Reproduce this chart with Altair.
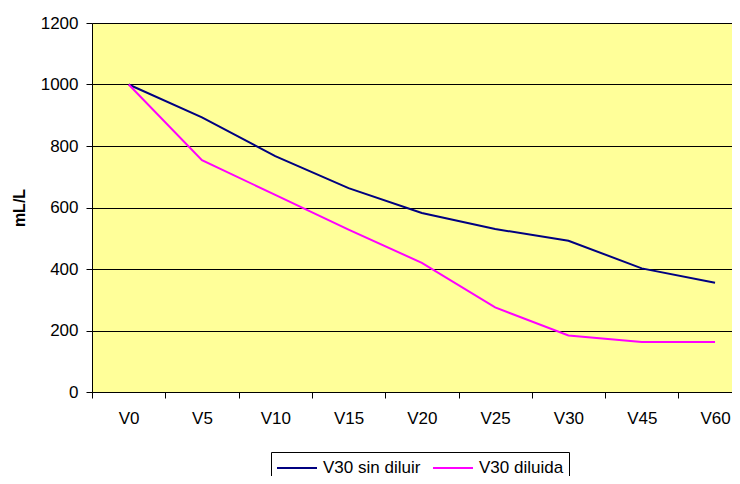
import altair as alt
import pandas as pd

categories = ["V0", "V5", "V10", "V15", "V20", "V25", "V30", "V45", "V60"]
sin_diluir = [1000, 893, 767, 663, 582, 530, 492, 402, 355]
diluida = [1000, 754, 641, 528, 420, 275, 184, 163, 163]
series_names = ["V30 sin diluir", "V30 diluida"]
series_colors = ["#000080", "#FF00FF"]
y_ticks = [0, 200, 400, 600, 800, 1000, 1200]

rows = []
for i, c in enumerate(categories):
    rows.append({"idx": i, "cat": c, "serie": series_names[0], "val": sin_diluir[i]})
    rows.append({"idx": i, "cat": c, "serie": series_names[1], "val": diluida[i]})
df = pd.DataFrame(rows)

cat_js = "[" + ",".join("'%s'" % c for c in categories) + "]"
tick_vals = [i - 0.5 for i in range(len(categories))]

W = 640
band = 73.3
xmax = -0.5 + W / band

chart = alt.Chart(df).mark_line(strokeWidth=2).encode(
    x=alt.X(
        "idx:Q",
        scale=alt.Scale(domain=[-0.5, xmax], nice=False, zero=False),
        axis=alt.Axis(
            values=tick_vals,
            labelExpr=cat_js + "[round(datum.value + 0.5)]",
            labelOffset=band / 2,
            labelFlush=False,
            labelOverlap=False,
            labelBound=False,
            grid=False,
            title=None,
            tickSize=6,
            labelPadding=12,
            labelFontSize=17,
            labelFont="Liberation Sans",
            labelColor="black",
        ),
    ),
    y=alt.Y(
        "val:Q",
        scale=alt.Scale(domain=[0, 1200], nice=False),
        axis=alt.Axis(
            values=y_ticks,
            format="d",
            title="mL/L",
            titleFontWeight="bold",
            titleFontSize=16,
            titleFont="Liberation Sans",
            titlePadding=13,
            tickSize=6,
            labelPadding=8,
            labelFontSize=17,
            labelFont="Liberation Sans",
            labelColor="black",
            grid=True,
        ),
    ),
    color=alt.Color(
        "serie:N",
        scale=alt.Scale(domain=series_names, range=series_colors),
        legend=alt.Legend(
            title=None,
            orient="none",
            legendX=179,
            legendY=429,
            direction="horizontal",
            symbolType="M-1,0H3",
            symbolSize=400,
            symbolStrokeWidth=2,
            symbolFillColor="transparent",
            labelFontSize=17,
            labelFont="Liberation Sans",
            labelColor="black",
            labelOffset=25,
            columnPadding=8,
            padding=5,
            strokeColor="black",
            fillColor="white",
        ),
    ),
    order="idx:Q",
).properties(
    width=W,
    height=369,
    autosize=alt.AutoSizeParams(type="none"),
    padding={"left": 84, "top": 15, "right": 0, "bottom": 84},
).configure(
    font="Liberation Sans",
).configure_view(
    fill="#FFFF99",
    stroke="#808080",
).configure_axis(
    domainColor="black",
    tickColor="black",
    gridColor="black",
    gridOpacity=1,
    titleColor="black",
)

chart.save("out.html", embed_options={"renderer": "svg", "actions": False})
